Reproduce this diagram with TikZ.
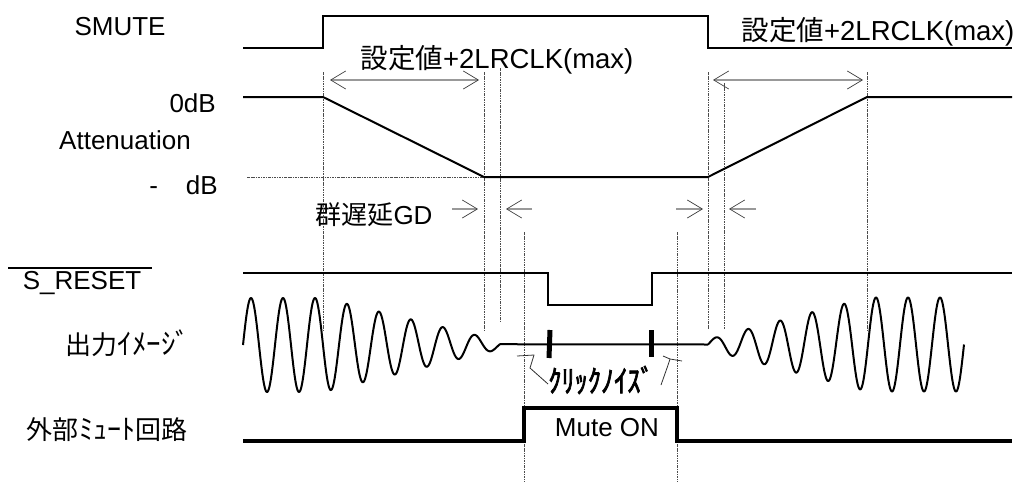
\documentclass[tikz,border=0pt]{standalone}
\usepackage{fontspec}
\setmainfont{Liberation Sans}
\newfontfamily\jp{Noto Sans CJK JP}
\newfontfamily\jpb[FakeBold=2.5]{Noto Sans CJK JP}
\usetikzlibrary{arrows.meta}
\tikzset{
  sig/.style={line width=2.4pt, line join=miter},
  wave/.style={line width=2pt, line join=round},
  vdot/.style={line width=0.8pt, draw=black!70, dash pattern=on 2.5pt off 1pt on 0.8pt off 1pt},
  dimarrow/.style={draw=black!40, line width=1.3pt,
     -{Straight Barb[length=15pt,width=18pt,line width=0.7pt,color=black!75]}},
  dimboth/.style={draw=black!40, line width=1.3pt,
     {Straight Barb[length=15pt,width=18pt,line width=0.7pt,color=black!75]}-{Straight Barb[length=15pt,width=18pt,line width=0.7pt,color=black!75]}},
  lbl/.style={inner sep=0pt, font=\fontsize{26}{30}\selectfont},
  hook/.style={draw=black!80, line width=0.8pt, line join=round}
}
\begin{document}
\begin{tikzpicture}[x=1pt,y=-1pt]
\fill[white] (0,0) rectangle (1020,482);
\useasboundingbox (0,0) rectangle (1020,482);

% labels
\node[lbl] (smute) at (120,27) {SMUTE};
\node[lbl, anchor=east] (zerodb) at (216,103) {0dB};
\node[lbl] (atten) at (125,140) {Attenuation};
\node[lbl, anchor=east] (mindb) at (218,185) {-\hspace{28pt}dB};
\node[lbl] (sreset) at (82,283) {S\_RESET};
\draw[line width=1.2pt] (8,268) -- (152,268);
\node[lbl] (out) at (128,343) {\jp 出力{\fontsize{29}{30}\selectfont ｲﾒｰｼﾞ}};
\node[lbl] (ext) at (107,430) {\jp 外部{\fontsize{28}{30}\selectfont ﾐｭｰﾄ}回路};
\node[lbl] (gd) at (374,215) {{\jp 群遅延}GD};
\node[lbl, font=\fontsize{27.5}{30}\selectfont] (set1) at (497,60) {{\jp 設定値}+2LRCLK(max)};
\node[lbl, font=\fontsize{27.5}{30}\selectfont] (set2) at (878,32) {{\jp 設定値}+2LRCLK(max)};
\node[lbl] (muteon) at (607,428) {Mute ON};
\node[lbl, font=\fontsize{31}{32}\selectfont\jpb, xscale=0.85] (click) at (601,380) {ｸﾘｯｸﾉｲｽﾞ};

% vertical dotted guides
\draw[vdot] (323,72) -- (323,330);
\draw[vdot] (484,72) -- (484,330);
\draw[vdot] (500,68) -- (500,321);
\draw[vdot] (524,232) -- (524,482);
\draw[vdot] (677,232) -- (677,482);
\draw[vdot] (708,72) -- (708,329);
\draw[vdot] (724,83) -- (724,329);
\draw[vdot] (867,72) -- (867,330);
% -dB level
\draw[vdot] (247,177) -- (484,177);

% SMUTE
\draw[sig] (243,48) -- (323,48) -- (323,16) -- (708,16) -- (708,48) -- (1012,48);
% Attenuation
\draw[sig, line width=2pt] (243,97) -- (323,97) -- (484,177) -- (708,177) -- (867,97) -- (1012,97);
% S_RESET
\draw[sig] (243,273) -- (548,273) -- (548,305) -- (652,305) -- (652,273) -- (1012,273);
% external mute
\draw[sig, line width=4pt] (243,441) -- (524,441) -- (524,408) -- (677,408) -- (677,441) -- (1012,441);

% output waveform
\draw[wave] plot[domain=243:500, samples=400] (\x, {345 - min(47, 4+(500-\x)*0.2429)*sin((\x-243)*11.25)})
   -- (708,344.5)
   plot[domain=708:964, samples=400] (\x, {344.5 - min(47, 5+(\x-708)*0.2625)*sin((\x-708)*11.25)});

% click noise bars
\draw[line width=5pt] (550,330) -- (549,358);
\draw[line width=5pt] (651,330) -- (651,357);
% hooks to click noise
\draw[hook] (517,356) -- (534,355) -- (530,368) -- (548,384);
\draw[hook] (663,356) -- (670,359) -- (682,361);
\draw[hook] (670,359) -- (667,368) -- (661,385);

% dimension arrows
\coordinate (a1l) at (330,80); \coordinate (a1r) at (479,80);
\coordinate (a2l) at (713,80); \coordinate (a2r) at (863,80);
\draw[dimboth] (a1l) -- (a1r);
\draw[dimboth] (a2l) -- (a2r);
\coordinate (g1s) at (452,209); \coordinate (g1e) at (478,209);
\coordinate (g2s) at (532,209); \coordinate (g2e) at (506,209);
\coordinate (g3s) at (676,209); \coordinate (g3e) at (703,209);
\coordinate (g4s) at (756,209); \coordinate (g4e) at (729,209);
\draw[dimarrow] (g1s) -- (g1e);
\draw[dimarrow] (g2s) -- (g2e);
\draw[dimarrow] (g3s) -- (g3e);
\draw[dimarrow] (g4s) -- (g4e);
\end{tikzpicture}
\end{document}
